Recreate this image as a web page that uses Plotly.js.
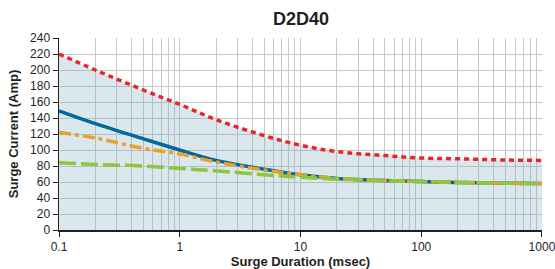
<!DOCTYPE html>
<html><head><meta charset="utf-8">
<script src="https://cdn.plot.ly/plotly-3.0.1.min.js"></script>
<style>html,body{margin:0;padding:0;background:#fff}#chart{width:555px;height:269px}</style>
</head><body><div id="chart"></div>
<script>
const duration = [0.1, 0.2, 0.5, 1, 2, 5, 10, 20, 50, 100, 200, 500, 1000];
const redSeries    = [220, 200, 175, 157, 138, 118, 106, 98, 93, 90, 89, 87.5, 87];
const blueSeries   = [149, 133, 114, 100, 87, 76, 69, 64.5, 62, 60.5, 59.5, 58.5, 58];
const orangeSeries = [122, 115, 102, 95, 85, 75, 69, 64.5, 62, 60.5, 59.5, 58.5, 58];
const greenSeries  = [84, 82, 80, 77, 74, 69, 66, 63.5, 61.5, 60.5, 59.5, 58.5, 58];
const xTickVals = [0.1, 1, 10, 100, 1000];
const xTickText = ['0.1', '1', '10', '100', '1000'];

const minorVals = [];
[0.1, 1, 10, 100].forEach(d => { for (let k = 2; k <= 9; k++) minorVals.push(d * k); });

const font = 'Liberation Sans, Arial, sans-serif';
const traces = [
  {x: duration, y: redSeries, mode: 'lines', line: {color: '#e8262a', width: 3.5, dash: '5px,4px', shape: 'spline'},
   fill: 'tozeroy', fillcolor: 'rgba(120,170,190,0.27)'},
  {x: duration, y: blueSeries, mode: 'lines', line: {color: '#00689d', width: 3.5, shape: 'spline'}},
  {x: duration, y: orangeSeries, mode: 'lines', line: {color: '#e9a12b', width: 3.5, dash: '12px,4px,4px,4px', shape: 'spline'}},
  {x: duration, y: greenSeries, mode: 'lines', line: {color: '#8dc63f', width: 3.5, dash: '17px,5px', shape: 'spline'}}
];
const layout = {
  width: 555, height: 269,
  margin: {l: 59, r: 13, t: 38, b: 39},
  paper_bgcolor: '#fff', plot_bgcolor: '#fff',
  showlegend: false,
  font: {family: font, size: 12, color: '#231f20'},
  title: {text: '<b>D2D40</b>', x: 0.5424, xanchor: 'center', y: 0.93, yanchor: 'middle', font: {family: font, size: 18, color: '#231f20'}},
  xaxis: {
    type: 'log', range: [-1, 3.0003],
    tickvals: xTickVals, ticktext: xTickText,
    ticklabeloverflow: 'allow',
    ticks: 'outside', ticklen: 5, tickcolor: '#231f20',
    showgrid: true, gridcolor: '#c8c8c8', gridwidth: 1,
    showline: true, linecolor: '#231f20', linewidth: 1.5,
    minor: {tickvals: minorVals, showgrid: true, gridcolor: '#c8c8c8', gridwidth: 1, ticks: ''},
    zeroline: false,
    tickfont: {family: font, size: 12, color: '#231f20'},
    title: {text: '<b>Surge Duration (msec)</b>', standoff: 7, font: {family: font, size: 13, color: '#231f20'}}
  },
  yaxis: {
    range: [0, 240], dtick: 20,
    ticks: 'outside', ticklen: 5, tickcolor: '#231f20',
    showgrid: true, gridcolor: '#c8c8c8', gridwidth: 1,
    showline: true, linecolor: '#231f20', linewidth: 1.5,
    zeroline: false,
    tickfont: {family: font, size: 12, color: '#231f20'},
    title: {text: '<b>Surge Current (Amp)</b>', standoff: 8, font: {family: font, size: 13, color: '#231f20'}}
  }
};
Plotly.newPlot('chart', traces, layout, {displayModeBar: false, staticPlot: true});
</script></body></html>
